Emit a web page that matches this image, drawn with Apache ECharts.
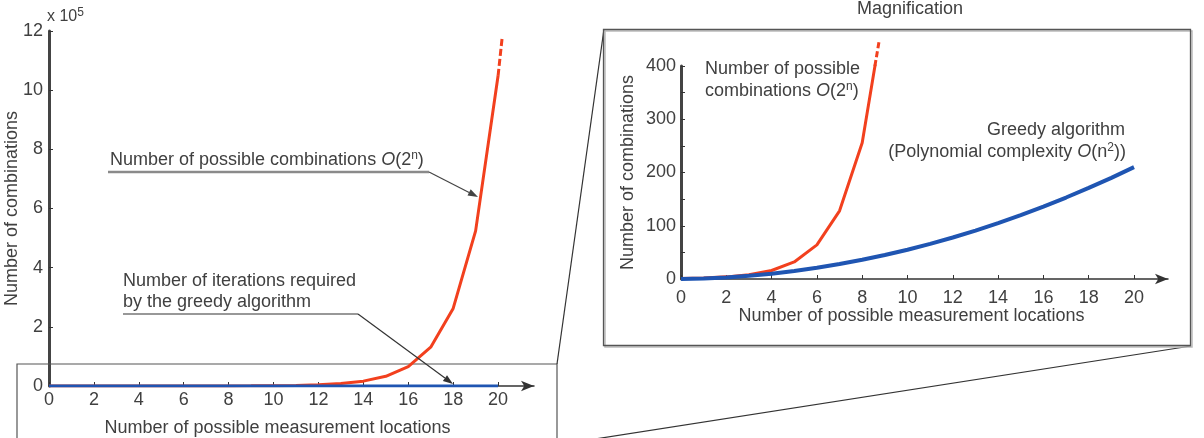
<!DOCTYPE html>
<html>
<head>
<meta charset="utf-8">
<script src="https://cdn.jsdelivr.net/npm/echarts@6/dist/echarts.min.js"></script>
<style>
html, body { margin: 0; padding: 0; background: #fff; }
#main { width: 1204px; height: 438px; }
</style>
</head>
<body>
<div id="main"></div>
<script>
// number of possible measurement locations n
const locations = [0, 1, 2, 3, 4, 5, 6, 7, 8, 9, 10, 11, 12, 13, 14, 15, 16, 17, 18, 19, 20]
// number of possible combinations, 2^n
const combinations = [1, 2, 4, 8, 16, 32, 64, 128, 256, 512, 1024, 2048, 4096, 8192,
  16384, 32768, 65536, 131072, 262144, 524288, 1048576]
// iterations needed by the greedy algorithm
const greedyIterations = [0, 1, 3, 6, 10, 15, 21, 28, 36, 45, 55, 66, 78, 91, 105, 120,
  136, 153, 171, 190, 210]
// dashed tails where the red curve leaves the plot
const tailLeft = [[20, 1048576], [20.18, 1176000]]
const tailRight = [[8.56, 400], [8.74, 445]]
// tick labels
const xTicks = [0, 2, 4, 6, 8, 10, 12, 14, 16, 18, 20]
const rightYLabels = [0, 100, 200, 300, 400]

const RED = '#f2401e'
const BLUE = '#1f55b2'
const TXT = '#404040'
const AXIS = '#333'
const FONT = '"Liberation Sans", Arial, sans-serif'
const FS = 18

const pairs = (xs, ys) => ys.map((y, i) => [xs[i], y])

function arrow(x1, y1, x2, y2, color) {
  const a = Math.atan2(y2 - y1, x2 - x1)
  const L = 10, W = 3.5
  const bx = x2 - L * Math.cos(a), by = y2 - L * Math.sin(a)
  return [
    { type: 'line', z: 5, shape: { x1: x1, y1: y1, x2: bx, y2: by }, style: { stroke: color, lineWidth: 1.2 } },
    { type: 'polygon', z: 5, shape: { points: [[x2, y2], [bx + W * Math.sin(a), by - W * Math.cos(a)], [bx - W * Math.sin(a), by + W * Math.cos(a)]] }, style: { fill: color } },
  ]
}

const rich = {
  i: { fontStyle: 'italic', fontFamily: FONT, fontSize: FS, fill: TXT, color: TXT },
  s: { fontFamily: FONT, fontSize: 12, fill: TXT, color: TXT, padding: [0, 0, 9, 0] },
}

function label(x, y, text, align) {
  return {
    type: 'text', z: 5, x: x, y: y,
    style: { text: text, fill: TXT, fontFamily: FONT, fontSize: FS, align: align || 'left', verticalAlign: 'middle', rich: rich },
  }
}

function axisX(grid, max) {
  return {
    gridIndex: grid, type: 'value', min: 0, max: max,
    axisLine: { show: true, onZero: false, symbol: ['none', 'arrow'], symbolSize: [8, 13], lineStyle: { color: AXIS, width: 1.5 } },
    axisTick: { show: true, inside: true, length: 4, customValues: xTicks, lineStyle: { color: AXIS } },
    axisLabel: { customValues: xTicks, color: TXT, fontSize: FS, fontFamily: FONT, margin: 5 },
    splitLine: { show: false },
    name: 'Number of possible measurement locations',
    nameLocation: 'middle',
    nameMoveOverlap: false,
    nameTextStyle: { color: TXT, fontSize: FS, fontFamily: FONT },
  }
}

function axisY(grid, max, interval) {
  return {
    gridIndex: grid, type: 'value', min: 0, max: max, interval: interval,
    axisLine: { show: true, onZero: false, lineStyle: { color: '#444', width: 3 } },
    axisTick: { show: true, inside: true, length: 4, lineStyle: { color: AXIS } },
    axisLabel: { color: TXT, fontSize: FS, fontFamily: FONT, margin: 6 },
    splitLine: { show: false },
    name: 'Number of combinations', nameLocation: 'middle', nameRotate: 90,
    nameMoveOverlap: false,
    nameTextStyle: { color: TXT, fontSize: FS, fontFamily: FONT },
  }
}

const chart = echarts.init(document.getElementById('main'))

const leftX = axisX(0, 21.6)
leftX.nameGap = 33
leftX.nameTextStyle.padding = [0, 28, 0, 0]
const rightX = axisX(1, 21.5)
rightX.nameGap = 28
rightX.axisLabel.margin = 10
rightX.nameTextStyle.padding = [0, 26, 0, 0]

const leftY = axisY(0, 1200000, 200000)
leftY.axisLabel.formatter = v => v / 100000
leftY.nameGap = 28
const rightY = axisY(1, 400, 50)
rightY.axisLabel.customValues = rightYLabels
rightY.axisLabel.margin = 5
rightY.nameGap = 44

chart.setOption({
  animation: false,
  title: {
    text: 'Magnification', left: 910, top: 0, padding: 0, textAlign: 'center',
    textStyle: { color: TXT, fontSize: FS, fontWeight: 'normal', fontFamily: FONT },
  },
  grid: [
    { left: 49, top: 31, width: 485, height: 355, outerBoundsMode: 'none' },
    { left: 681, top: 66, width: 487, height: 213, outerBoundsMode: 'none' },
  ],
  xAxis: [leftX, rightX],
  yAxis: [leftY, rightY],
  series: [
    {
      name: 'combinations', type: 'line', xAxisIndex: 0, yAxisIndex: 0, z: 3,
      data: pairs(locations, combinations), showSymbol: false,
      lineStyle: { color: RED, width: 3 }, itemStyle: { color: RED },
    },
    {
      type: 'line', xAxisIndex: 0, yAxisIndex: 0, z: 3, data: tailLeft, showSymbol: false,
      lineStyle: { color: RED, width: 3, type: [7, 3] },
    },
    {
      name: 'greedy', type: 'line', xAxisIndex: 0, yAxisIndex: 0, z: 4,
      data: pairs(locations, greedyIterations), showSymbol: false,
      lineStyle: { color: BLUE, width: 3 }, itemStyle: { color: BLUE },
    },
    {
      type: 'line', xAxisIndex: 1, yAxisIndex: 1, z: 3, clip: true,
      data: pairs(locations, combinations).slice(0, 10), showSymbol: false,
      lineStyle: { color: RED, width: 3 },
    },
    {
      type: 'line', xAxisIndex: 1, yAxisIndex: 1, z: 3, clip: false, data: tailRight, showSymbol: false,
      lineStyle: { color: RED, width: 3, type: [6, 3] },
    },
    {
      type: 'line', xAxisIndex: 1, yAxisIndex: 1, z: 4,
      data: pairs(locations, greedyIterations), showSymbol: false,
      lineStyle: { color: BLUE, width: 4 },
    },
  ],
  graphic: [
    // zoom box on the left plot, the magnified panel and the lines between them
    { type: 'rect', z: 1, shape: { x: 17, y: 364, width: 540, height: 90 }, style: { fill: 'none', stroke: '#555', lineWidth: 1.2 } },
    { type: 'line', z: 1, shape: { x1: 557, y1: 364, x2: 604, y2: 29 }, style: { stroke: '#333', lineWidth: 1.2 } },
    { type: 'line', z: 1, shape: { x1: 1191, y1: 346, x2: 595, y2: 439 }, style: { stroke: '#333', lineWidth: 1.2 } },
    { type: 'rect', z: 1, shape: { x: 605, y: 31, width: 587, height: 316 }, style: { fill: 'none', stroke: '#bbb', lineWidth: 1.5 } },
    { type: 'rect', z: 1, shape: { x: 603.5, y: 29.5, width: 587, height: 316 }, style: { fill: 'none', stroke: '#555', lineWidth: 1.3 } },

    { type: 'text', z: 5, x: 47, y: 17, style: { text: 'x 10{s|5}', fill: TXT, fontFamily: FONT, fontSize: 16, verticalAlign: 'middle', rich: rich } },

    label(110, 160, 'Number of possible combinations {i|O}(2{s|n})'),
    { type: 'line', z: 5, shape: { x1: 108, y1: 172, x2: 429, y2: 172 }, style: { stroke: '#8a8a8a', lineWidth: 2.5 } },
    ...arrow(429, 172, 478, 197, '#444'),

    label(123, 281, 'Number of iterations required'),
    label(123, 302, 'by the greedy algorithm'),
    { type: 'line', z: 5, shape: { x1: 123, y1: 314, x2: 358, y2: 314 }, style: { stroke: '#333', lineWidth: 1.2 } },
    ...arrow(358, 314, 453, 384, '#333'),

    label(705, 69, 'Number of possible'),
    label(705, 91, 'combinations {i|O}(2{s|n})'),
    label(1125, 130, 'Greedy algorithm', 'right'),
    label(1126, 152, '(Polynomial complexity {i|O}(n{s|2}))', 'right'),
  ],
})
</script>
</body>
</html>
